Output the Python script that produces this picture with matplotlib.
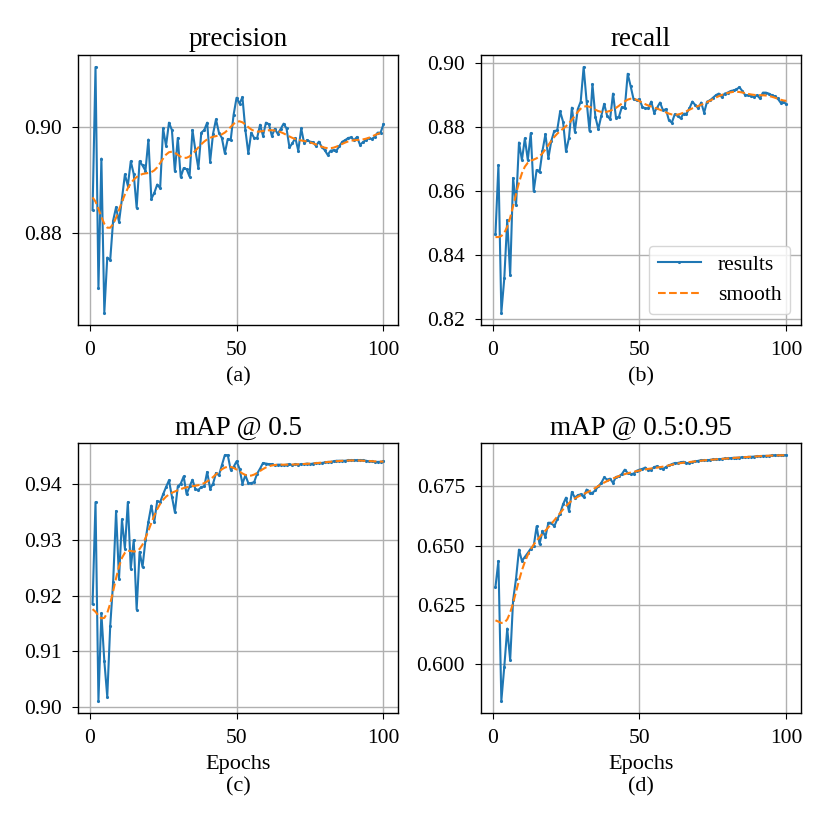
import numpy as np
import matplotlib
matplotlib.use("Agg")
import matplotlib.pyplot as plt

epochs = np.arange(1, 101)

precision = [
    0.8843, 0.9113, 0.8695, 0.8940, 0.8649, 0.8753, 0.8748, 0.8823, 0.8848, 0.8820,
    0.8864, 0.8910, 0.8889, 0.8935, 0.8911, 0.8847, 0.8935, 0.8927, 0.8917, 0.8976,
    0.8864, 0.8875, 0.8891, 0.8884, 0.8997, 0.8964, 0.9008, 0.8994, 0.8916, 0.8979,
    0.8905, 0.8922, 0.8920, 0.8906, 0.8994, 0.8955, 0.8922, 0.8989, 0.8994, 0.9008,
    0.8934, 0.8987, 0.9014, 0.8989, 0.8979, 0.8950, 0.8977, 0.8975, 0.9023, 0.9055,
    0.9044, 0.9056, 0.8994, 0.8950, 0.8989, 0.8979, 0.8979, 0.9004, 0.8983, 0.9008,
    0.9005, 0.8983, 0.8996, 0.8987, 0.8996, 0.9006, 0.8997, 0.8961, 0.8969, 0.8979,
    0.8955, 0.8997, 0.8969, 0.8975, 0.8972, 0.8971, 0.8964, 0.8972, 0.8962, 0.8956,
    0.8947, 0.8955, 0.8956, 0.8955, 0.8964, 0.8972, 0.8975, 0.8979, 0.8980, 0.8975,
    0.8981, 0.8966, 0.8971, 0.8975, 0.8979, 0.8977, 0.8981, 0.8989, 0.8989, 0.9005,
]

recall = [
    0.8464, 0.8680, 0.8219, 0.8326, 0.8508, 0.8336, 0.8640, 0.8554, 0.8751, 0.8696,
    0.8764, 0.8696, 0.8780, 0.8599, 0.8665, 0.8658, 0.8725, 0.8777, 0.8702, 0.8756,
    0.8787, 0.8789, 0.8848, 0.8816, 0.8723, 0.8765, 0.8860, 0.8785, 0.8855, 0.8879,
    0.8987, 0.8881, 0.8787, 0.8933, 0.8831, 0.8793, 0.8834, 0.8872, 0.8834, 0.8824,
    0.8904, 0.8829, 0.8831, 0.8862, 0.8858, 0.8966, 0.8927, 0.8886, 0.8883, 0.8886,
    0.8862, 0.8858, 0.8858, 0.8879, 0.8844, 0.8860, 0.8876, 0.8852, 0.8855, 0.8821,
    0.8813, 0.8839, 0.8834, 0.8827, 0.8841, 0.8841, 0.8858, 0.8879, 0.8868, 0.8858,
    0.8876, 0.8844, 0.8879, 0.8883, 0.8891, 0.8899, 0.8904, 0.8893, 0.8904, 0.8907,
    0.8912, 0.8914, 0.8917, 0.8924, 0.8912, 0.8899, 0.8899, 0.8896, 0.8893, 0.8899,
    0.8889, 0.8907, 0.8907, 0.8904, 0.8899, 0.8896, 0.8889, 0.8876, 0.8879, 0.8870,
]

map50 = [
    0.9185, 0.9367, 0.9012, 0.9168, 0.9083, 0.9019, 0.9145, 0.9224, 0.9351, 0.9230,
    0.9336, 0.9284, 0.9367, 0.9248, 0.9299, 0.9175, 0.9278, 0.9251, 0.9299, 0.9332,
    0.9361, 0.9332, 0.9369, 0.9367, 0.9381, 0.9394, 0.9406, 0.9377, 0.9349, 0.9395,
    0.9400, 0.9413, 0.9381, 0.9395, 0.9407, 0.9390, 0.9389, 0.9394, 0.9395, 0.9421,
    0.9391, 0.9400, 0.9419, 0.9415, 0.9433, 0.9451, 0.9451, 0.9425, 0.9430, 0.9440,
    0.9427, 0.9400, 0.9415, 0.9401, 0.9401, 0.9403, 0.9418, 0.9427, 0.9437, 0.9436,
    0.9435, 0.9435, 0.9433, 0.9434, 0.9434, 0.9433, 0.9434, 0.9435, 0.9433, 0.9435,
    0.9434, 0.9435, 0.9435, 0.9436, 0.9435, 0.9436, 0.9437, 0.9437, 0.9437, 0.9438,
    0.9439, 0.9439, 0.9440, 0.9441, 0.9441, 0.9441, 0.9441, 0.9442, 0.9442, 0.9442,
    0.9442, 0.9442, 0.9442, 0.9441, 0.9440, 0.9440, 0.9439, 0.9439, 0.9439, 0.9440,
]

map5095 = [
    0.6326, 0.6435, 0.5846, 0.5989, 0.6150, 0.6017, 0.6270, 0.6361, 0.6483, 0.6435,
    0.6452, 0.6469, 0.6487, 0.6497, 0.6581, 0.6506, 0.6562, 0.6537, 0.6596, 0.6596,
    0.6581, 0.6610, 0.6635, 0.6674, 0.6702, 0.6645, 0.6726, 0.6702, 0.6712, 0.6716,
    0.6705, 0.6736, 0.6722, 0.6722, 0.6733, 0.6750, 0.6764, 0.6787, 0.6778, 0.6782,
    0.6764, 0.6789, 0.6792, 0.6801, 0.6820, 0.6806, 0.6801, 0.6803, 0.6815, 0.6820,
    0.6823, 0.6829, 0.6817, 0.6820, 0.6831, 0.6834, 0.6829, 0.6823, 0.6831, 0.6838,
    0.6843, 0.6848, 0.6848, 0.6851, 0.6853, 0.6848, 0.6848, 0.6853, 0.6855, 0.6857,
    0.6860, 0.6860, 0.6860, 0.6861, 0.6863, 0.6863, 0.6864, 0.6865, 0.6867, 0.6867,
    0.6868, 0.6870, 0.6870, 0.6871, 0.6872, 0.6872, 0.6874, 0.6874, 0.6875, 0.6877,
    0.6877, 0.6878, 0.6878, 0.6878, 0.6880, 0.6880, 0.6880, 0.6881, 0.6881, 0.6881,
]

titles = ["precision", "recall", "mAP @ 0.5", "mAP @ 0.5:0.95"]
xlabels = ["(a)", "(b)", "Epochs\n(c)", "Epochs\n(d)"]
yticks = [
    [0.88, 0.90],
    [0.82, 0.84, 0.86, 0.88, 0.90],
    [0.90, 0.91, 0.92, 0.93, 0.94],
    [0.600, 0.625, 0.650, 0.675],
]
yfmt = ["%.2f", "%.2f", "%.2f", "%.3f"]


def smooth(y, sigma=3.0, truncate=4.0):
    # gaussian filter, reflect padding like scipy's gaussian_filter1d
    y = np.asarray(y, dtype=float)
    r = int(truncate * sigma + 0.5)
    k = np.exp(-0.5 * (np.arange(-r, r + 1) / sigma) ** 2)
    k /= k.sum()
    yp = np.pad(y, r, mode="symmetric")
    return np.convolve(yp, k, mode="valid")


plt.rcParams['font.family'] = ['Liberation Serif', 'DejaVu Serif']

fig, axes = plt.subplots(2, 2, figsize=(8.3, 8.3), dpi=100)
plt.subplots_adjust(left=0.094, right=0.965, top=0.934, bottom=0.141,
                    wspace=0.259, hspace=0.437)

series = [precision, recall, map50, map5095]
for i, ax in enumerate(axes.flat):
    y = series[i]
    ax.plot(epochs, y, marker='.', markersize=2.5, linewidth=1.5,
            color='C0', label='results')
    ax.plot(epochs, smooth(y), '--', linewidth=1.5, color='C1', label='smooth')
    ax.set_title(titles[i], fontsize=19.5)
    ax.set_xlabel(xlabels[i], fontsize=16, linespacing=1.25, labelpad=5)
    ax.set_xticks([0, 50, 100])
    ax.set_yticks(yticks[i])
    ax.set_yticklabels([yfmt[i] % v for v in yticks[i]])
    ax.tick_params(labelsize=15.5, pad=7, length=4.5)
    ax.grid(True, linewidth=1.0, color='#b0b0b0')
    for s in ax.spines.values():
        s.set_linewidth(1.0)
    if i == 1:
        ax.legend(loc='lower right', fontsize=15.5)

plt.savefig("out.png", dpi=100)
